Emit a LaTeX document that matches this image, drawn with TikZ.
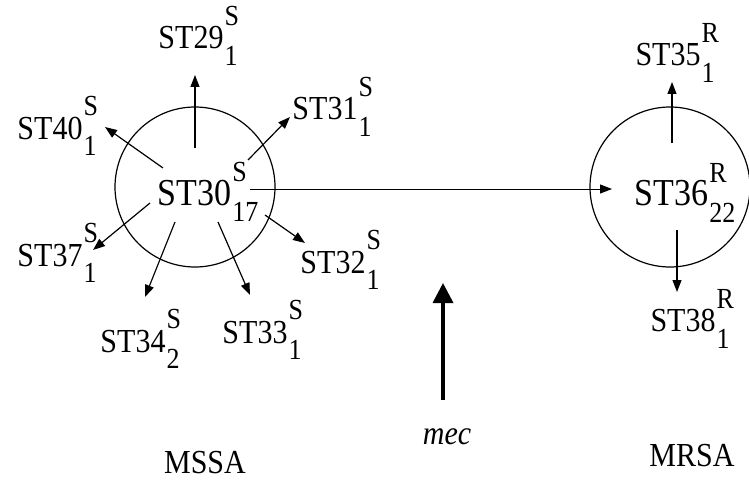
\documentclass[tikz,border=0pt]{standalone}
\usepackage{fontspec}
\setmainfont{Liberation Serif}
\usetikzlibrary{arrows.meta}
\newcommand{\scr}{\fontsize{26}{28}\selectfont}
\newcommand{\tall}[1]{\scalebox{1}[1.12]{#1}}
\newcommand{\stlab}[3]{\tall{ST#1\kern1pt\rlap{\raisebox{21pt}{\scr #2}}\raisebox{-15pt}{\scr #3}}}

\begin{document}
\begin{tikzpicture}[x=1pt, y=-1pt,
    lab/.style={inner sep=0pt, font=\fontsize{30}{32}\selectfont},
    hub/.style={inner sep=0pt, font=\fontsize{34}{36}\selectfont},
    ring/.style={draw, circle, line width=1.2pt, minimum size=160pt, inner sep=0pt},
    arr/.style={-{Triangle[length=12pt, width=9pt]}, line width=1.2pt},
    big/.style={-{Triangle[length=20pt, width=20pt]}, line width=3.5pt}]
    \useasboundingbox (0,0) rectangle (749,484);

    % 两个圆
    \node[ring] (ring1) at (195,187) {};
    \node[ring] (ring2) at (670,187) {};

    % 中心菌株
    \node[hub] (st30) at (208,192) {\stlab{30}{S}{17}};
    \node[hub] (st36) at (685,193) {\stlab{36}{R}{22}};

    % MSSA 周围
    \node[lab] (st29) at (198,36) {\stlab{29}{S}{1}};
    \node[lab] (st31) at (332,107) {\stlab{31}{S}{1}};
    \node[lab] (st40) at (57,126) {\stlab{40}{S}{1}};
    \node[lab] (st37) at (57,253) {\stlab{37}{S}{1}};
    \node[lab] (st32) at (340,260) {\stlab{32}{S}{1}};
    \node[lab] (st34) at (140,339) {\stlab{34}{S}{2}};
    \node[lab] (st33) at (262,330) {\stlab{33}{S}{1}};

    % MRSA 周围
    \node[lab] (st35) at (675,53) {\stlab{35}{R}{1}};
    \node[lab] (st38) at (690,319) {\stlab{38}{R}{1}};

    % 底部标注
    \node[lab] (mssa) at (205,463) {\tall{MSSA}};
    \node[lab] (mrsa) at (692,456) {\tall{MRSA}};
    \node[lab, font=\fontsize{30}{32}\selectfont\itshape] (mec) at (447,437) {\tall{mec}};

    % 箭头端点
    \coordinate (t29) at (195,148); \coordinate (h29) at (195,75);
    \coordinate (t40) at (163,168); \coordinate (h40) at (105,127);
    \coordinate (t31) at (248,160); \coordinate (h31) at (290,117);
    \coordinate (t37) at (150,203); \coordinate (h37) at (93,250);
    \coordinate (t34) at (175,222); \coordinate (h34) at (145,297);
    \coordinate (t33) at (218,222); \coordinate (h33) at (250,295);
    \coordinate (t32) at (265,215); \coordinate (h32) at (305,243);
    \coordinate (t36) at (250,189); \coordinate (h36) at (612,189);
    \coordinate (t35) at (672,143); \coordinate (h35) at (672,82);
    \coordinate (t38) at (677,230); \coordinate (h38) at (677,292);
    \coordinate (tmec) at (443,400); \coordinate (hmec) at (443,283);

    % 箭头
    \draw[arr] (t29) -- (h29);
    \draw[arr] (t40) -- (h40);
    \draw[arr] (t31) -- (h31);
    \draw[arr] (t37) -- (h37);
    \draw[arr] (t34) -- (h34);
    \draw[arr] (t33) -- (h33);
    \draw[arr] (t32) -- (h32);
    \draw[arr, line width=1pt] (t36) -- (h36);
    \draw[arr] (t35) -- (h35);
    \draw[arr] (t38) -- (h38);
    \draw[big] (tmec) -- (hmec);
\end{tikzpicture}
\end{document}
